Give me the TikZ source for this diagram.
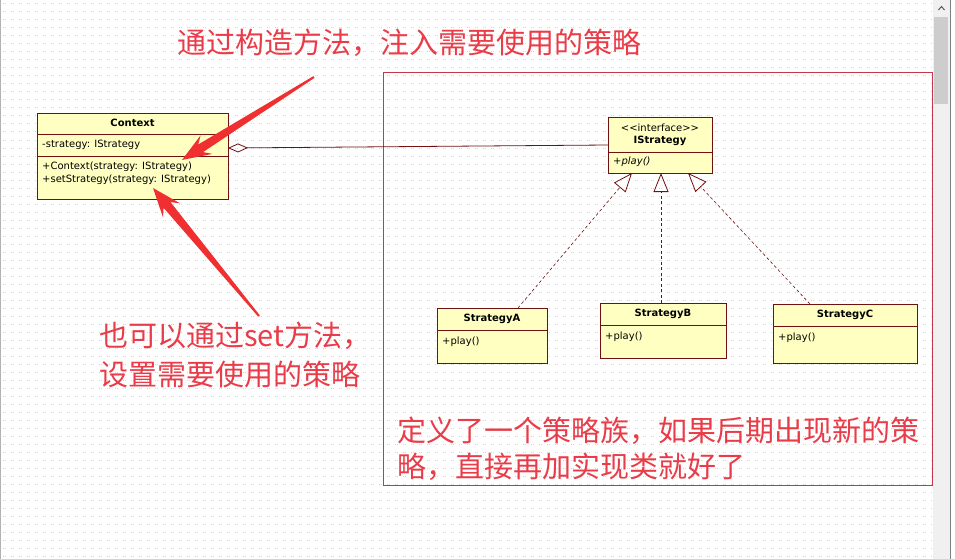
\documentclass[tikz,border=0pt]{standalone}
\usepackage{fontspec}
\setmainfont{DejaVu Sans}
\newfontfamily\cjk{Noto Sans CJK SC}
\usetikzlibrary{arrows.meta,calc}
\definecolor{umlfill}{RGB}{255,255,194}
\definecolor{umlline}{RGB}{112,16,16}
\definecolor{annot}{RGB}{234,60,72}
\definecolor{arrowred}{RGB}{240,48,48}
\definecolor{framered}{RGB}{196,56,78}
\definecolor{gridgray}{RGB}{212,212,212}
\definecolor{trackgray}{RGB}{240,240,240}
\definecolor{thumbgray}{RGB}{205,205,205}
\begin{document}
\begin{tikzpicture}[x=1pt,y=-1pt,
  classbox/.style={draw=umlline, fill=umlfill, line width=0.9pt, anchor=north west, inner sep=0pt, outer sep=0pt},
  umltext/.style={font=\fontsize{10}{11}\selectfont, inner sep=0pt, text=black},
  umlbold/.style={font=\fontsize{10}{11}\selectfont\bfseries, inner sep=0pt, text=black},
  umlital/.style={font=\fontsize{10}{11}\selectfont\itshape, inner sep=0pt, text=black},
  compsep/.style={draw=umlline, line width=0.9pt},
  realize/.style={draw=umlline, dash pattern=on 3pt off 2.5pt, line width=0.6pt,
     -{Triangle[open, length=19pt, width=15pt, line width=0.8pt]}},
  aggr/.style={draw=umlline, line width=0.8pt, {Diamond[open, length=20pt, width=9pt, line width=0.8pt]}-},
  annottext/.style={font=\cjk\fontsize{29}{36}\selectfont, text=annot, inner sep=0pt, anchor=base west},
  redarrow/.style={fill=arrowred}
]
\useasboundingbox (0,0) rectangle (955,559);
\fill[white] (0,0) rectangle (955,559);
% dotted background grid
\foreach \yy in {4,12,...,556} {
  \draw[gridgray, line width=1pt, dash pattern=on 1pt off 1pt on 1pt off 5pt] (3,\yy) -- (932,\yy);
}
% left border
\draw[gray!60, line width=1pt] (0.5,0) -- (0.5,559);
% scrollbar
\fill[trackgray] (933,0) rectangle (950,559);
\fill[thumbgray] (934,17) rectangle (948,104);
\draw[gray!70!black, line width=1pt] (938.5,10) -- (941.5,6.5) -- (944.5,10);
\draw[gray, line width=1pt] (950.5,0) -- (950.5,559);

% red frame
\draw[framered, line width=0.8pt] (383,72) rectangle (932,485);

% Context class
\node[classbox, minimum width=191pt, minimum height=86pt] (ctx) at (37,113) {};
\draw[compsep] (37,134) -- (228,134);
\draw[compsep] (37,156) -- (228,156);
\node[umlbold] (ctxname) at (132.5,123) {Context};
\node[umltext, anchor=west] (ctxattr) at (42,145) {-strategy: IStrategy};
\node[umltext, anchor=west] (ctxm1) at (42,167) {+Context(strategy: IStrategy)};
\node[umltext, anchor=west] (ctxm2) at (42,180) {+setStrategy(strategy: IStrategy)};

% IStrategy interface
\node[classbox, minimum width=104pt, minimum height=56pt] (ist) at (608,117) {};
\draw[compsep] (608,152) -- (712,152);
\node[umltext] (iststereo) at (660,127.5) {<{}<interface>{}>};
\node[umlbold] (istname) at (660,141) {IStrategy};
\node[umlital, anchor=west] (istop) at (613,162) {+play()};

% StrategyA
\node[classbox, minimum width=110pt, minimum height=55pt] (sa) at (437,308) {};
\draw[compsep] (437,330) -- (547,330);
\node[umlbold] (saname) at (492,319) {StrategyA};
\node[umltext, anchor=west] (saop) at (442,342) {+play()};

% StrategyB
\node[classbox, minimum width=126pt, minimum height=55pt] (sb) at (600,303) {};
\draw[compsep] (600,325) -- (726,325);
\node[umlbold] (sbname) at (663,314) {StrategyB};
\node[umltext, anchor=west] (sbop) at (605,337) {+play()};

% StrategyC
\node[classbox, minimum width=144pt, minimum height=59pt] (sc) at (773,304) {};
\draw[compsep] (773,326) -- (917,326);
\node[umlbold] (scname) at (845,315) {StrategyC};
\node[umltext, anchor=west] (scop) at (778,338) {+play()};

% aggregation
\draw[aggr] ([yshift=8pt]ctx.east) -- (ist.west);

% realizations
\draw[realize] ([xshift=26pt]sa.north) -- ([xshift=-28pt]ist.south);
\draw[realize] ([xshift=-2pt]sb.north) -- ([xshift=1pt]ist.south);
\draw[realize] ([xshift=-35pt]sc.north) -- ([xshift=28pt]ist.south);

% annotations
\node[annottext] (note1) at (177,54) {通过构造方法，注入需要使用的策略};
\node[annottext] (note2a) at (99,346) {也可以通过set方法，};
\node[annottext] (note2b) at (99,385) {设置需要使用的策略};
\node[annottext] (note3a) at (397,441) {定义了一个策略族，如果后期出现新的策};
\node[annottext] (note3b) at (397,477) {略，直接再加实现类就好了};

% red annotation arrows
\coordinate (t1) at (314,77);
\coordinate (h1) at (182,160);
\coordinate (t2) at (259,316);
\coordinate (h2) at (153,188);
\foreach \t/\h in {t1/h1, t2/h2} {
  \coordinate (hb) at ($(\h)!22pt!(\t)$);
  \coordinate (wb) at ($(\h)!29pt!(\t)$);
  \fill[redarrow] ($(\t)!1pt!90:(\h)$) -- ($(hb)!4.5pt!90:(\h)$) -- ($(wb)!11pt!90:(\h)$) -- (\h)
     -- ($(wb)!11pt!-90:(\h)$) -- ($(hb)!4.5pt!-90:(\h)$) -- ($(\t)!1pt!-90:(\h)$) -- cycle;
}
\end{tikzpicture}
\end{document}
